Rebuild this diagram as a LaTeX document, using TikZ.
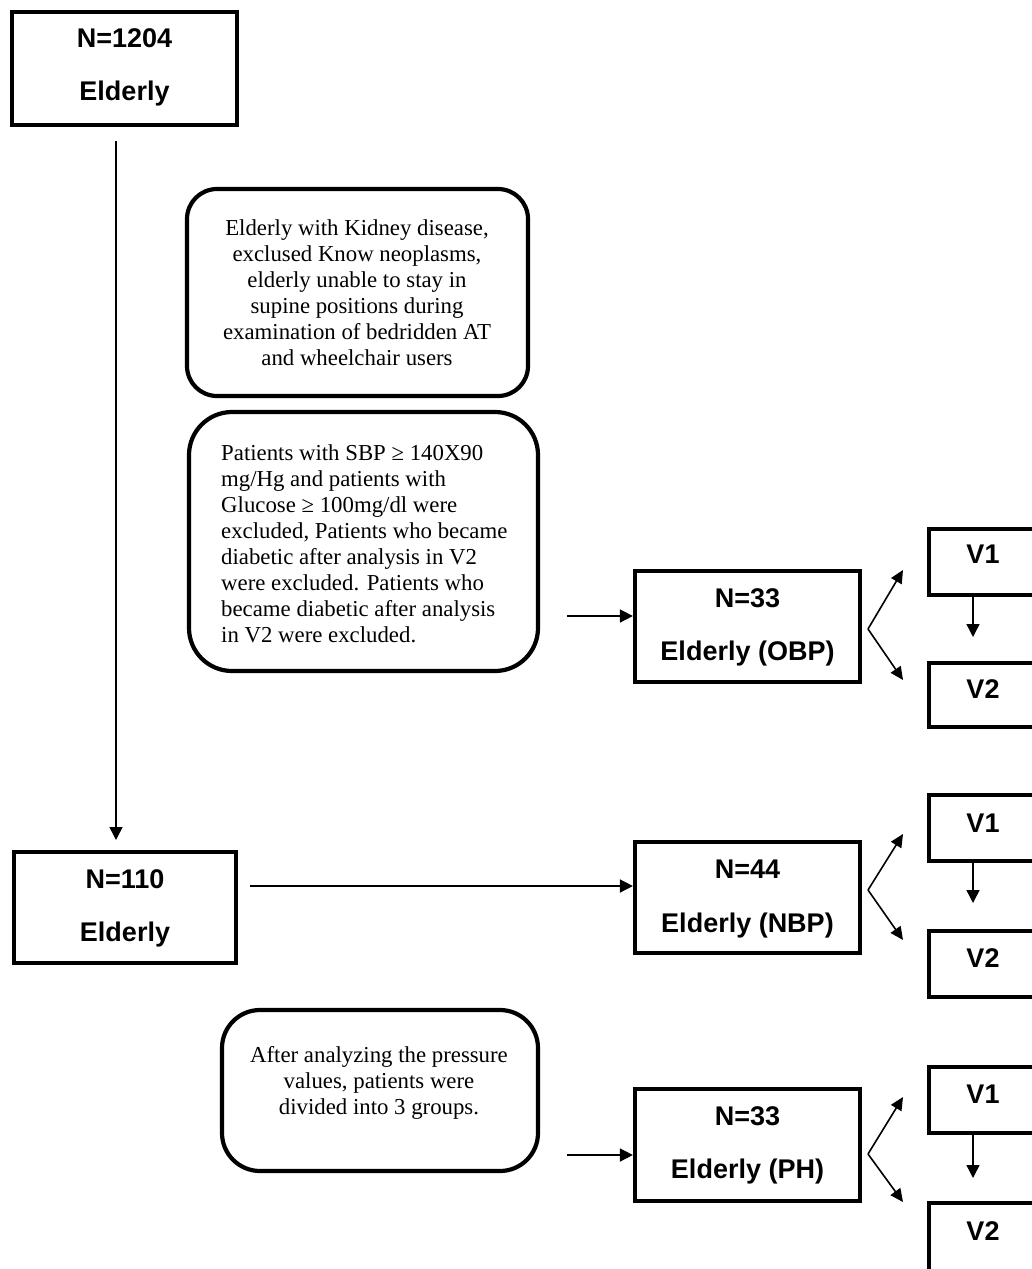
\documentclass[tikz,border=0pt]{standalone}
\usepackage{fontspec}
\setmainfont{Liberation Serif}
\newfontfamily\arialfont{Liberation Sans}
\usetikzlibrary{arrows.meta}
\begin{document}
\begin{tikzpicture}[x=1pt,y=-1pt,
  sqbox/.style={draw, line width=4.2pt, inner sep=0pt},
  rbox/.style={draw, line width=4.2pt, inner sep=0pt},
  btxt/.style={font=\arialfont\bfseries\fontsize{27}{30}\selectfont, inner sep=0pt, anchor=base},
  stxt/.style={font=\fontsize{22.8}{26}\selectfont, inner sep=0pt},
  arr/.style={line width=1.5pt, -{Triangle[length=13pt,width=13pt]}},
  farr/.style={line width=1.6pt, -{Triangle[length=13pt,width=12pt]}}
]
\useasboundingbox (0,0) rectangle (1032,1269);
\fill[white] (0,0) rectangle (1032,1269);
\clip (0,0) rectangle (1032,1269);

% left column
\node[sqbox, minimum width=225pt, minimum height=113pt] (b1) at (124.5,68.5) {};
\node[btxt] (b1a) at (124.5,47) {N=1204};
\node[btxt] (b1b) at (124.5,100) {Elderly};

\node[sqbox, minimum width=222pt, minimum height=111pt] (b2) at (125,907.5) {};
\node[btxt] (b2a) at (125,888) {N=110};
\node[btxt] (b2b) at (125,941) {Elderly};

\coordinate (va) at (116,141);
\coordinate (vb) at (116,840);
\draw[arr] (va) -- (vb);

% rounded boxes
\node[rbox, rounded corners=30pt, minimum width=341pt, minimum height=207pt] (r1) at (357.5,292.5) {};
\node[stxt, anchor=base] (r1t) at (357,235) {\begin{tabular}[t]{@{}c@{}}Elderly with Kidney disease,\\ exclused Know neoplasms,\\ elderly unable to stay in\\ supine positions during\\ examination of bedridden AT\\ and wheelchair users\end{tabular}};

\node[rbox, rounded corners=43pt, minimum width=349pt, minimum height=259pt] (r2) at (363.5,541.5) {};
\node[stxt, anchor=base west] (r2t) at (221,460) {\begin{tabular}[t]{@{}l@{}}Patients with SBP ≥ 140X90\\ mg/Hg and patients with\\ Glucose ≥ 100mg/dl were\\ excluded, Patients who became\\ diabetic after analysis in V2\\ were excluded. Patients who\\ became diabetic after analysis\\ in V2 were excluded.\end{tabular}};

\node[rbox, rounded corners=38pt, minimum width=316pt, minimum height=161pt] (r3) at (380,1090.5) {};
\node[stxt, anchor=base] (r3t) at (379,1062) {\begin{tabular}[t]{@{}c@{}}After analyzing the pressure\\ values, patients were\\ divided into 3 groups.\end{tabular}};

% group boxes
\node[sqbox, minimum width=225pt, minimum height=111pt] (g1) at (747.5,626.5) {};
\node[btxt] (g1a) at (747.5,607) {N=33};
\node[btxt] (g1b) at (747.5,660) {Elderly (OBP)};

\node[sqbox, minimum width=225pt, minimum height=111pt] (g2) at (747.5,897.5) {};
\node[btxt] (g2a) at (747.5,878) {N=44};
\node[btxt] (g2b) at (747.5,932) {Elderly (NBP)};

\node[sqbox, minimum width=225pt, minimum height=112pt] (g3) at (747.5,1145) {};
\node[btxt] (g3a) at (747.5,1125) {N=33};
\node[btxt] (g3b) at (747.5,1178) {Elderly (PH)};

% input arrows
\coordinate (i1) at (567,616);
\coordinate (i2) at (250,886);
\coordinate (i3) at (567,1155);
\draw[arr] (i1) -- (i1 -| g1.west);
\draw[arr] (i2) -- (i2 -| g2.west);
\draw[arr] (i3) -- (i3 -| g3.west);

% V boxes
\node[sqbox, minimum width=121pt, minimum height=66pt] (v11) at (989.5,562) {};
\node[btxt] (v11t) at (983,563) {V1};
\node[sqbox, minimum width=121pt, minimum height=64pt] (v12) at (989.5,695) {};
\node[btxt] (v12t) at (983,698) {V2};

\node[sqbox, minimum width=121pt, minimum height=66pt] (v21) at (989.5,828) {};
\node[btxt] (v21t) at (983,832) {V1};
\node[sqbox, minimum width=121pt, minimum height=66pt] (v22) at (989.5,964) {};
\node[btxt] (v22t) at (983,967) {V2};

\node[sqbox, minimum width=121pt, minimum height=66pt] (v31) at (989.5,1100) {};
\node[btxt] (v31t) at (983,1103) {V1};
\node[sqbox, minimum width=121pt, minimum height=77pt] (v32) at (989.5,1241.5) {};
\node[btxt] (v32t) at (983,1240) {V2};

% V1 -> V2 arrows
\coordinate (d1) at (973,637);
\coordinate (d2) at (973,903);
\coordinate (d3) at (973,1178);
\draw[arr] (v11.south -| d1) -- (d1);
\draw[arr] (v21.south -| d2) -- (d2);
\draw[arr] (v31.south -| d3) -- (d3);

% forks
\coordinate (f1) at (868,629);
\coordinate (f1u) at (903,570);
\coordinate (f1d) at (903,680);
\draw[farr] (f1) -- (f1u);
\draw[farr] (f1) -- (f1d);

\coordinate (f2) at (868,890);
\coordinate (f2u) at (903,834);
\coordinate (f2d) at (903,940);
\draw[farr] (f2) -- (f2u);
\draw[farr] (f2) -- (f2d);

\coordinate (f3) at (868,1154);
\coordinate (f3u) at (903,1097);
\coordinate (f3d) at (903,1202);
\draw[farr] (f3) -- (f3u);
\draw[farr] (f3) -- (f3d);
\end{tikzpicture}
\end{document}
